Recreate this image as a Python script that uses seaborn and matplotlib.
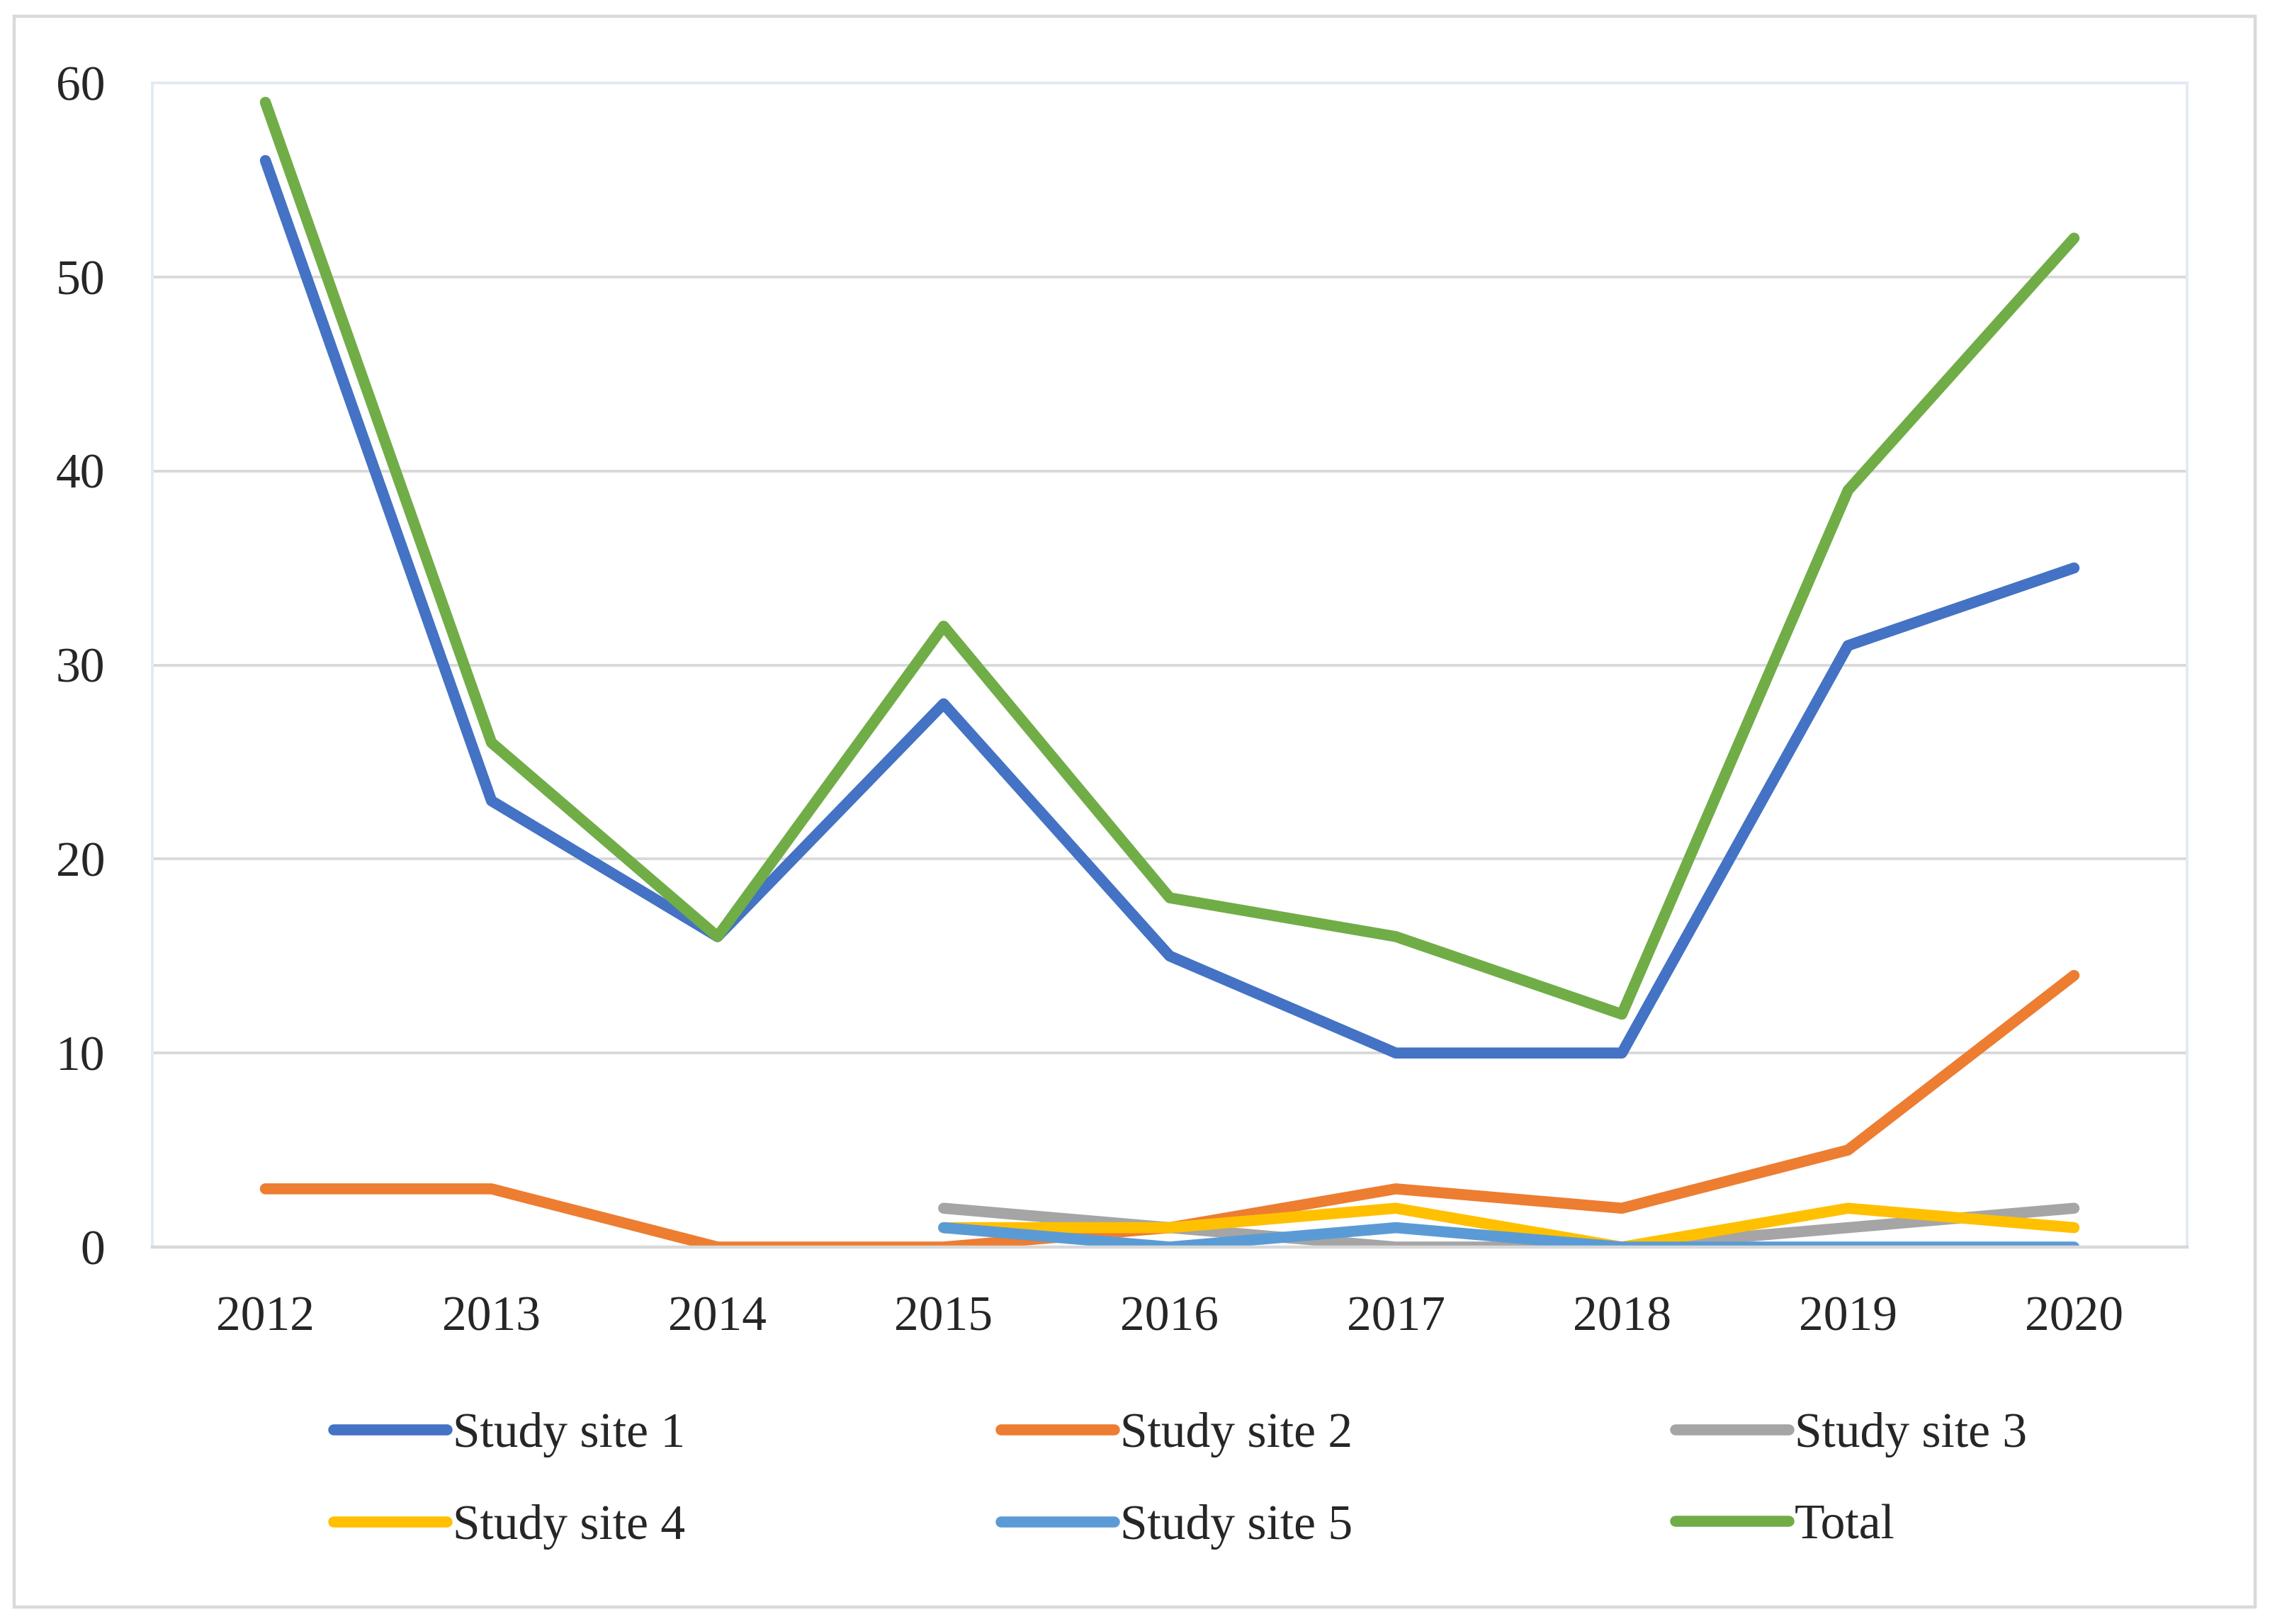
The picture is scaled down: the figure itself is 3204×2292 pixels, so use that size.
import matplotlib
matplotlib.use("Agg")
import matplotlib.pyplot as plt
import numpy as np
import pandas as pd
import seaborn as sns
from matplotlib.patches import Rectangle

# -------------------------
# data
# -------------------------
years = [2012, 2013, 2014, 2015, 2016, 2017, 2018, 2019, 2020]
site1 = [56, 23, 16, 28, 15, 10, 10, 31, 35]
site2 = [3, 3, 0, 0, 1, 3, 2, 5, 14]
site3 = [np.nan, np.nan, np.nan, 2, 1, 0, 0, 1, 2]
site4 = [np.nan, np.nan, np.nan, 1, 1, 2, 0, 2, 1]
site5 = [np.nan, np.nan, np.nan, 1, 0, 1, 0, 0, 0]
total = [59, 26, 16, 32, 18, 16, 12, 39, 52]

series_names = ["Study site 1", "Study site 2", "Study site 3",
                "Study site 4", "Study site 5", "Total"]
colors = ["#4472C4", "#ED7D31", "#A5A5A5", "#FFC000", "#5B9BD5", "#70AD47"]
y_ticks = [0, 10, 20, 30, 40, 50, 60]

# long-form table for seaborn
wide = pd.DataFrame({"Year": years,
                     series_names[0]: site1, series_names[1]: site2,
                     series_names[2]: site3, series_names[3]: site4,
                     series_names[4]: site5, series_names[5]: total})
df = wide.melt(id_vars="Year", var_name="Series", value_name="Count").dropna()

# -------------------------
# figure
# -------------------------
sns.set_style("white")
plt.rcParams["font.family"] = ["Liberation Serif", "DejaVu Serif"]
FS = 25
LW = 5.6

W, H, DPI = 3204, 2292, 200
fig = plt.figure(figsize=(W / DPI, H / DPI), dpi=DPI)
ax = fig.add_axes([215 / W, 1 - 1760 / H, (3087 - 215) / W, (1760 - 117) / H])

sns.lineplot(data=df, x="Year", y="Count", hue="Series", hue_order=series_names,
             palette=colors, linewidth=LW, ax=ax, sort=True,
             estimator=None)
for ln in ax.get_lines():
    ln.set_solid_capstyle("round")
    ln.set_solid_joinstyle("round")

handles, labels = ax.get_legend_handles_labels()
ax.get_legend().remove()

ax.set_xlim(2011.5, 2020.5)
ax.set_ylim(0, 60)
ax.set_xticks(years)
ax.set_xticklabels([str(y) for y in years], fontsize=FS)
ax.set_yticks(y_ticks)
ax.set_yticklabels([str(v) for v in y_ticks], fontsize=FS)
ax.tick_params(axis="both", length=0)
ax.tick_params(axis="x", pad=25)
ax.tick_params(axis="y", pad=24)
ax.set_xlabel("")
ax.set_ylabel("")

ax.yaxis.grid(True, color="#D9D9D9", linewidth=1.4)
ax.set_axisbelow(True)
for side in ["left", "right", "top"]:
    ax.spines[side].set_color("#E3EAF5")
    ax.spines[side].set_linewidth(1.4)
ax.spines["bottom"].set_color("#D9D9D9")
ax.spines["bottom"].set_linewidth(1.6)

# -------------------------
# legend: 3 columns x 2 rows
# -------------------------
col_x = [471, 1413, 2365]
for c in range(3):
    idx = [c, c + 3]
    leg = fig.legend([handles[i] for i in idx], [labels[i] for i in idx],
                     loc="center left", bbox_to_anchor=(col_x[c] / W, 1 - 2090 / H),
                     frameon=False, fontsize=FS, handlelength=2.3,
                     handletextpad=0.12, labelspacing=0.95, borderpad=0,
                     borderaxespad=0)
    for h in leg.get_lines():
        h.set_linewidth(LW)
        h.set_solid_capstyle("round")

# outer frame
fig.patches.append(Rectangle((20 / W, 1 - 2268 / H), (3183 - 20) / W, (2268 - 23) / H,
                             transform=fig.transFigure, fill=False,
                             edgecolor="#D9D9D9", linewidth=1.6))

fig.savefig("out.png", dpi=DPI)
